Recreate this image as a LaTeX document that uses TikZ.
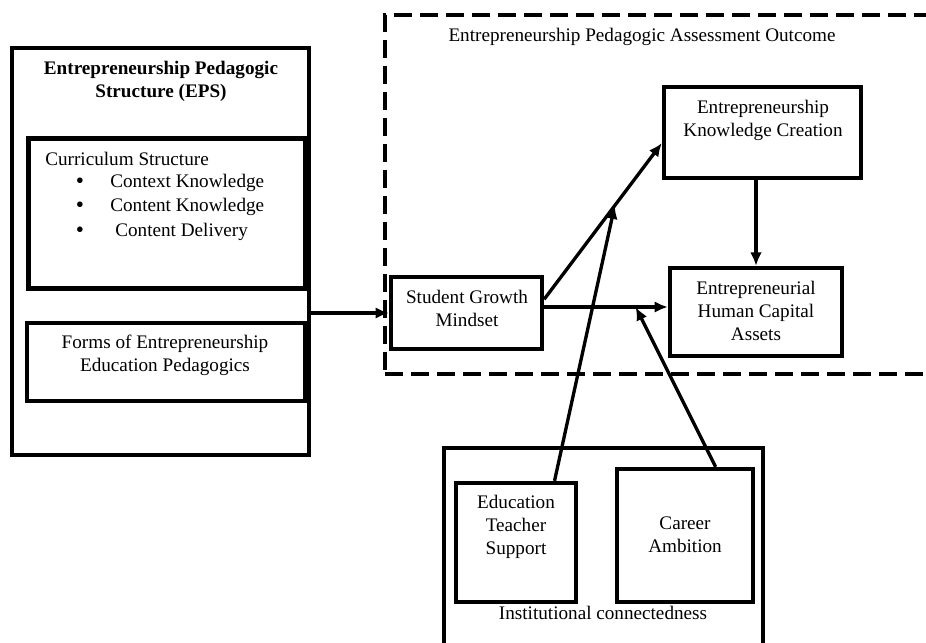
\documentclass[tikz,border=0pt]{standalone}
\usepackage{fontspec}
\setmainfont{Liberation Serif}
\usetikzlibrary{arrows.meta,calc}
\begin{document}
\begin{tikzpicture}[x=0.6pt,y=-0.6pt,
  every node/.style={font=\fontsize{11.5}{13.8}\selectfont, inner sep=0pt, align=center},
  boxA/.style={draw, line width=2.2pt, rectangle},
  boxB/.style={draw, line width=2.6pt, rectangle},
  boxC/.style={draw, line width=3pt, rectangle},
  dashbox/.style={draw, line width=2.4pt, dash pattern=on 10.8pt off 4.8pt, rectangle},
  txt/.style={},
  arr/.style={line width=2pt, -{Latex[length=8pt,width=7pt]}}]
\useasboundingbox (0,0) rectangle (926,643);
% left structure
\node[boxA, minimum width=178.2pt, minimum height=244.2pt] (eps) at (160.5,251.5) {};
\node[txt, font=\fontsize{11.5}{13.8}\selectfont\bfseries] (epst) at (161,81) {Entrepreneurship Pedagogic\\Structure (EPS)};
\node[boxC, minimum width=166.2pt, minimum height=90pt] (curr) at (166.5,214) {};
\node[txt, anchor=west] (cs) at (45,159) {Curriculum Structure};
\node[txt, font=\fontsize{14}{14}\selectfont] (b1) at (80,183) {\textbullet};
\node[txt, font=\fontsize{14}{14}\selectfont] (b2) at (80,207) {\textbullet};
\node[txt, font=\fontsize{14}{14}\selectfont] (b3) at (80,232) {\textbullet};
\node[txt, anchor=west] (l1) at (110,183) {Context Knowledge};
\node[txt, anchor=west] (l2) at (110,207) {Content Knowledge};
\node[txt, anchor=west] (l3) at (115,232) {Content Delivery};
\node[boxB, minimum width=166.8pt, minimum height=46.8pt] (forms) at (166,362) {};
\node[txt] (formst) at (165,355) {Forms of Entrepreneurship\\Education Pedagogics};
% outcome region
\node[dashbox, minimum width=345pt, minimum height=215.4pt] (outc) at (672.5,194.5) {};
\node[txt] (outct) at (642,37) {Entrepreneurship Pedagogic Assessment Outcome};
\node[boxB, minimum width=90.6pt, minimum height=43.2pt] (sgm) at (466.5,313) {};
\node[txt] (sgmt) at (467,308) {Student Growth\\Mindset};
\node[boxB, minimum width=118.2pt, minimum height=54.6pt] (kc) at (762.5,132.5) {};
\node[txt] (kct) at (763,120) {Entrepreneurship\\Knowledge Creation};
\node[boxB, minimum width=103.2pt, minimum height=52.8pt] (hc) at (756,312) {};
\node[txt] (hct) at (756,311) {Entrepreneurial\\Human Capital\\Assets};
% institutional
\node[boxA, minimum width=191.4pt, minimum height=139.2pt] (inst) at (603.5,564) {};
\node[boxB, minimum width=72pt, minimum height=71.4pt] (edu) at (516,542.5) {};
\node[txt] (edut) at (516,527) {Education\\Teacher\\Support};
\node[boxB, minimum width=81.6pt, minimum height=79.8pt] (car) at (685,535.5) {};
\node[txt] (cart) at (685,535) {Career\\Ambition};
\node[txt] (instt) at (603,613) {Institutional connectedness};
% connectors
\draw[arr] (eps.east |- sgm.west) -- (sgm.west);
\draw[arr] (sgm.10) -- (kc.186);
\coordinate (m1) at ($(sgm.10)!0.6!(kc.186)$);
\coordinate (hs) at ([yshift=3.6pt]sgm.east);
\coordinate (he) at (hs -| hc.west);
\draw[arr] (hs) -- (he);
\coordinate (m2) at ($(hs)!0.74!(he)$);
\draw[arr] (hc.north |- kc.south) -- (hc.north);
\draw[arr] (edu.58) -- (m1);
\draw[arr] (car.66) -- (m2);
\end{tikzpicture}
\end{document}
